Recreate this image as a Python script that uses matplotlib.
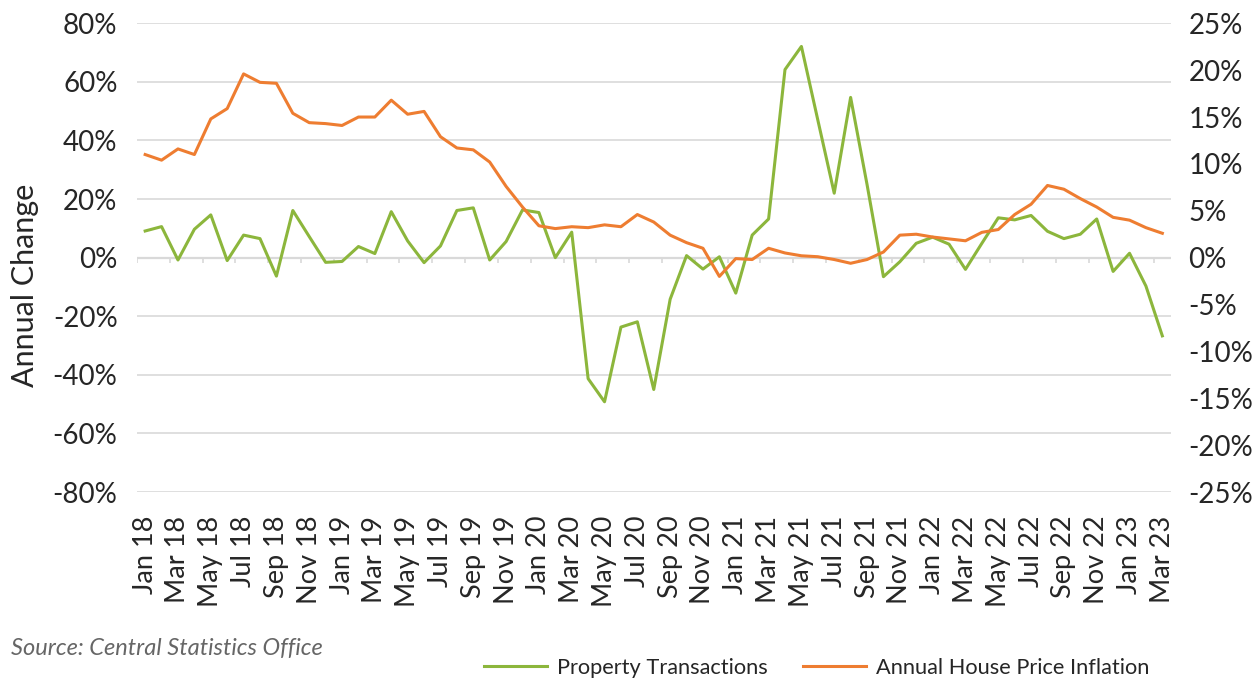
import numpy as np
import matplotlib
matplotlib.use("Agg")
import matplotlib.pyplot as plt
from matplotlib.ticker import FuncFormatter

plt.rcParams["font.family"] = ["Lato", "DejaVu Sans"]

# ----------------------------------------
# Data (annual % change)
# ----------------------------------------
months = ["Jan", "Feb", "Mar", "Apr", "May", "Jun",
          "Jul", "Aug", "Sep", "Oct", "Nov", "Dec"]
labels = [f"{m} {y}" for y in range(18, 24) for m in months][:63]

transactions = [9.1, 10.6, -0.8, 9.7, 14.6, -1.0, 7.7, 6.5, -6.3, 16.1, 7.2, -1.6,
                -1.3, 3.8, 1.4, 15.7, 5.7, -1.7, 4.0, 16.1, 17.0, -0.8, 5.5, 16.3,
                15.4, 0.0, 8.7, -41.3, -49.2, -23.7, -21.9, -45.0, -14.2, 0.7, -3.9, 0.3,
                -12.1, 7.7, 13.2, 64.2, 72.1, 47.0, 22.0, 54.7, 25.0, -6.5, -1.4, 4.9,
                7.0, 4.6, -4.0, 4.9, 13.6, 12.9, 14.4, 9.0, 6.5, 8.0, 13.2, -4.7,
                1.5, -9.7, -26.7]

house_prices = [11.0, 10.4, 11.6, 11.0, 14.8, 15.9, 19.6, 18.7, 18.6, 15.4, 14.4, 14.3,
                14.1, 15.0, 15.0, 16.8, 15.3, 15.6, 12.9, 11.7, 11.5, 10.2, 7.6, 5.4,
                3.4, 3.1, 3.3, 3.2, 3.5, 3.3, 4.6, 3.8, 2.4, 1.6, 1.0, -2.0,
                -0.1, -0.2, 1.0, 0.5, 0.2, 0.1, -0.2, -0.6, -0.2, 0.6, 2.4, 2.5,
                2.2, 2.0, 1.8, 2.7, 3.0, 4.6, 5.7, 7.7, 7.3, 6.3, 5.4, 4.3,
                4.0, 3.2, 2.6]

green = "#8CB63C"
orange = "#EE7D31"
grid_col = "#D9D9D9"
text_col = "#262626"

# ----------------------------------------
# Plot
# ----------------------------------------
fig = plt.figure(figsize=(12.6, 6.81), dpi=100)
ax = fig.add_axes([0.1087, 0.2775, 0.8203, 0.6883])
ax2 = ax.twinx()

x = np.arange(len(labels))

ax.set_ylim(-80, 80)
ax.set_yticks(np.arange(-80, 81, 20))
ax.yaxis.set_major_formatter(FuncFormatter(lambda v, p: f"{v:.0f}%"))
ax.grid(axis="y", color=grid_col, linewidth=1.2)
ax.set_axisbelow(True)
ax.axhline(0, color=grid_col, linewidth=1.6, zorder=1)
ax.vlines(np.arange(-0.5, len(labels), 2), -1.8, 0, color=grid_col, linewidth=1.2, zorder=1)

ax2.set_ylim(-25, 25)
ax2.set_yticks(np.arange(-25, 26, 5))
ax2.yaxis.set_major_formatter(FuncFormatter(lambda v, p: f"{v:.0f}%"))

l1, = ax.plot(x, transactions, color=green, linewidth=2.2, zorder=3,
              label="Property Transactions")
l2, = ax2.plot(x, house_prices, color=orange, linewidth=2.2, zorder=3,
               label="Annual House Price Inflation")

ax.set_xlim(-0.5, len(labels) - 0.5)
ax.set_xticks(x[::2])
ax.set_xticklabels(labels[::2], rotation=90)

for a in (ax, ax2):
    for s in a.spines.values():
        s.set_visible(False)
    a.tick_params(length=0, labelsize=20, colors=text_col)
ax.tick_params(axis="y", pad=14)
ax2.tick_params(axis="y", pad=13)
ax.tick_params(axis="x", labelsize=19.5, pad=17)

ax.set_ylabel("Annual Change", fontsize=22, color=text_col)
ax.yaxis.set_label_coords(-0.095, 0.44)

fig.text(0.009, 1 - 648 / 681, "Source: Central Statistics Office", fontsize=17,
         style="italic", color="#666666", va="center")

fig.legend(handles=[l1, l2], loc="center", bbox_to_anchor=(0.648, 0.019),
           ncol=2, frameon=False, fontsize=15.7, handlelength=2.9,
           columnspacing=1.6, handletextpad=0.45, labelcolor=text_col)

plt.savefig("out.png", dpi=100)
